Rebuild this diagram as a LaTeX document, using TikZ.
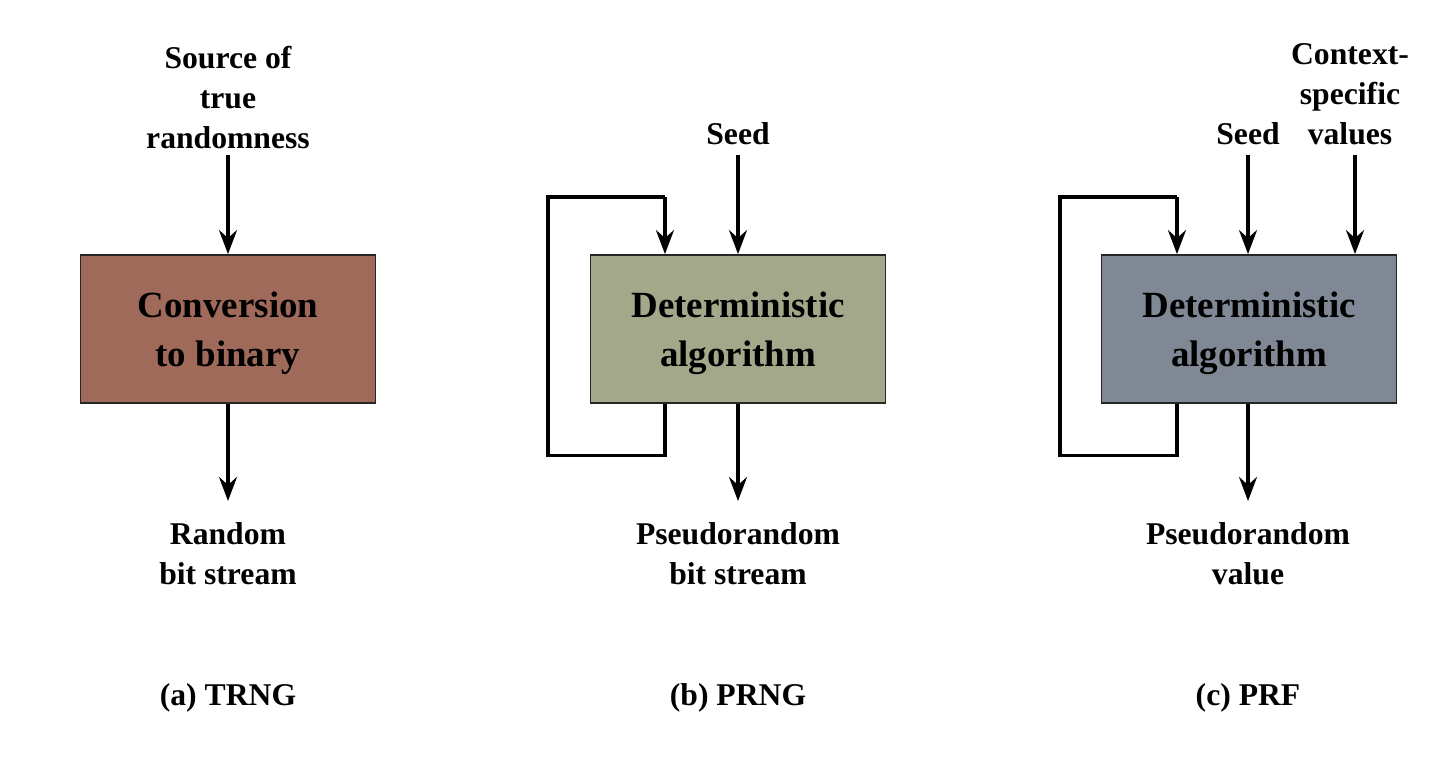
\documentclass[tikz,border=0pt]{standalone}
\usepackage{fontspec}
\setmainfont{Liberation Serif}
\usetikzlibrary{arrows.meta}
\definecolor{trngfill}{HTML}{A06A5A}
\definecolor{prngfill}{HTML}{A3A88A}
\definecolor{prffill}{HTML}{7F8894}
\newcommand{\boxstrut}{\rule{0pt}{3.4mm}}

\begin{document}
\begin{tikzpicture}[x=0.01cm,y=-0.01cm,
    block/.style={draw=black!85,line width=0.5pt,minimum width=2.95cm,minimum height=1.48cm,
        align=center,font=\fontsize{10.5}{13.7}\selectfont\bfseries},
    lbl/.style={align=center,inner sep=0pt,font=\fontsize{9}{11.4}\selectfont\bfseries},
    flow/.style={line width=0.9pt,-{Stealth[length=2.4mm,width=1.8mm,inset=0.8mm]}},
    loop/.style={line width=0.9pt,line join=miter}]
    \useasboundingbox (0,0) rectangle (1440,771);
    % (a) TRNG
    \node[block,fill=trngfill] (A) at (228,329) {\boxstrut Conversion\\to binary};
    \node[lbl,anchor=south] (srcA) at (228,150) {Source of\\true\\randomness};
    \node[lbl,anchor=north] (outA) at (228,522) {Random\\bit stream};
    \node[lbl] (capA) at (228,698) {(a) TRNG};
    \draw[flow] (srcA.south |- 0,155) -- (A.north);
    \draw[flow] (A.south) -- (A.south |- 0,501);
    % (b) PRNG
    \node[block,fill=prngfill] (B) at (738,329) {\boxstrut Deterministic\\algorithm};
    \node[lbl,anchor=south] (seedB) at (738,146) {Seed};
    \node[lbl,anchor=north] (outB) at (738,522) {Pseudorandom\\bit stream};
    \node[lbl] (capB) at (738,698) {(b) PRNG};
    \draw[flow] (seedB.south |- 0,155) -- (B.north);
    \draw[flow] (B.south) -- (B.south |- 0,501);
    \draw[loop] ([xshift=-0.73cm]B.south) -- ++(0,52) -- ++(-117,0) |- ([xshift=-0.73cm,yshift=0.57cm]B.north);
    \draw[flow] ([xshift=-0.73cm,yshift=0.57cm]B.north) -- ([xshift=-0.73cm]B.north);
    % (c) PRF
    \node[block,fill=prffill] (C) at (1249,329) {\boxstrut Deterministic\\algorithm};
    \node[lbl,anchor=south] (seedC) at (1248,146) {Seed};
    \node[lbl,anchor=south] (ctxC) at (1350,146) {Context-\\specific\\values};
    \node[lbl,anchor=north] (outC) at (1248,522) {Pseudorandom\\value};
    \node[lbl] (capC) at (1248,698) {(c) PRF};
    \draw[flow] (seedC.south |- 0,155) -- (seedC.south |- C.north);
    \draw[flow] (1355,155) coordinate (ctxIn) -- (ctxIn |- C.north);
    \draw[flow] (C.south -| 1248,0) -- (1248,501);
    \draw[loop] ([xshift=-0.72cm]C.south) -- ++(0,52) -- ++(-117,0) |- ([xshift=-0.72cm,yshift=0.57cm]C.north);
    \draw[flow] ([xshift=-0.72cm,yshift=0.57cm]C.north) -- ([xshift=-0.72cm]C.north);
\end{tikzpicture}
\end{document}
